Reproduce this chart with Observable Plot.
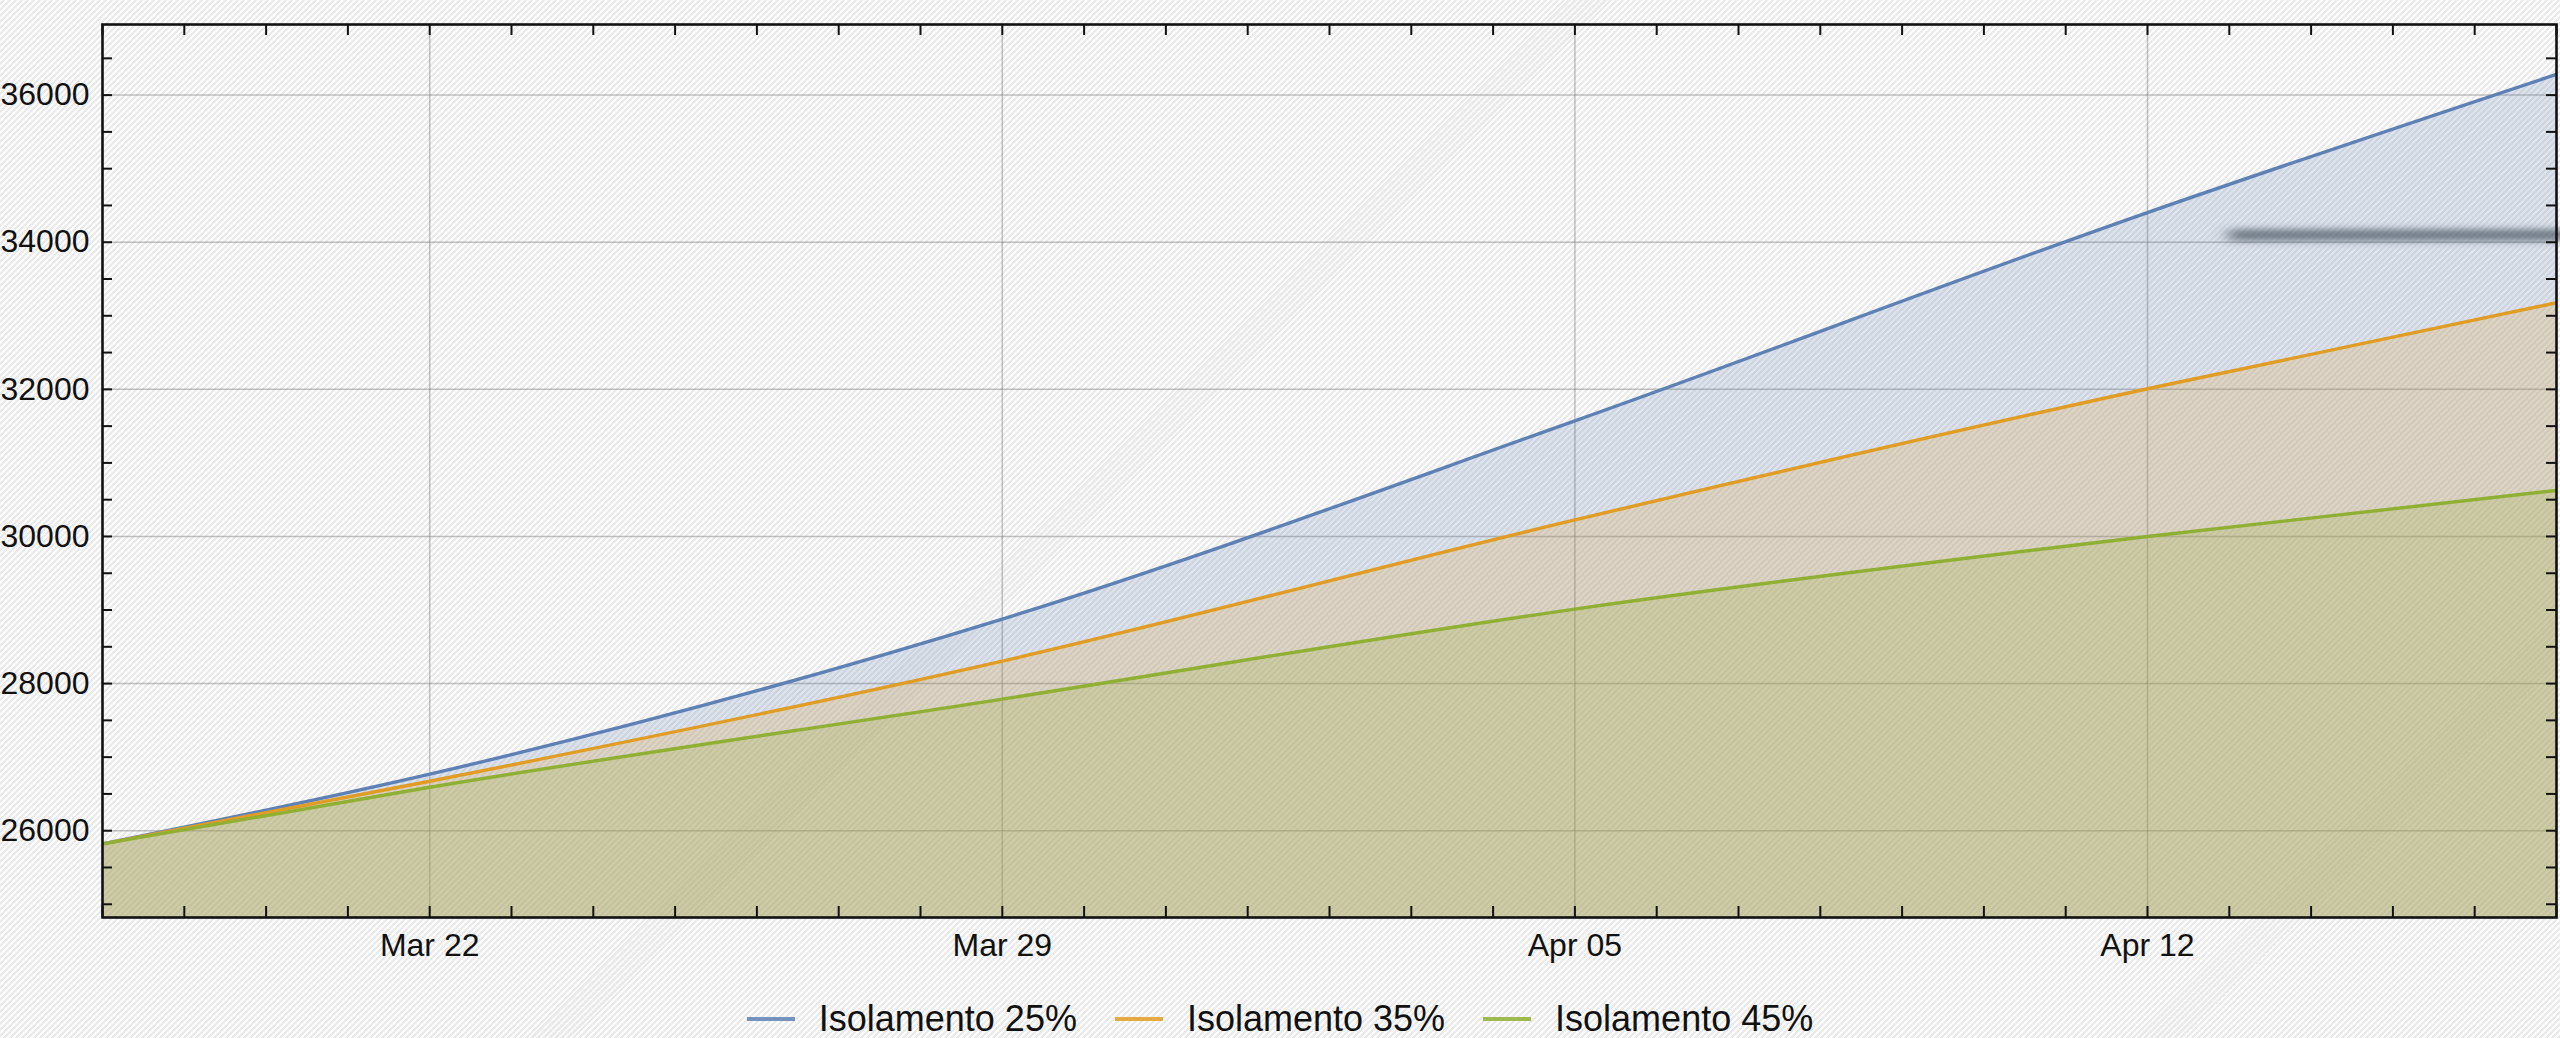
<!DOCTYPE html>
<html>
<head>
<meta charset="utf-8">
<script src="https://cdn.jsdelivr.net/npm/d3@7"></script>
<script src="https://cdn.jsdelivr.net/npm/@observablehq/plot@0.6"></script>
<style>
html, body { margin: 0; padding: 0; }
body {
  width: 2560px; height: 1038px; overflow: hidden; position: relative;
  background: repeating-linear-gradient(135deg, #fcfcfc 0px, #fcfcfc 2.1px, #eaeaea 2.1px, #eaeaea 4.24px);
  font-family: "Liberation Sans", Arial, sans-serif;
}
#chart { position: absolute; left: 0; top: 0; }
#legend {
  position: absolute; left: 0; top: 999px; width: 2560px; height: 40px;
  display: flex; align-items: center; justify-content: center;
  font-size: 36px; color: #111;
}
.item { display: flex; align-items: center; margin: 0 19px; }
.sw { width: 48px; height: 4px; margin-right: 24px; opacity: 0.85; }
</style>
</head>
<body>
<div id="chart"></div>
<div id="legend"></div>
<script>
// ---- data ----
const dates = ["2020-03-18", "2020-03-22", "2020-03-29", "2020-04-05", "2020-04-12", "2020-04-17"];
const iso25 = [25820, 26768, 28877, 31572, 34403, 36282];
const iso35 = [25820, 26672, 28306, 30225, 32008, 33178];
const iso45 = [25820, 26591, 27789, 29013, 30000, 30626];
const seriesNames = ["Isolamento 25%", "Isolamento 35%", "Isolamento 45%"];
const colors = ["#5e81b5", "#e19c24", "#8fb032"];
const xTickDates = ["2020-03-22", "2020-03-29", "2020-04-05", "2020-04-12"];
const yTicks = [26000, 28000, 30000, 32000, 34000, 36000];
const xDomain = ["2020-03-18", "2020-04-17"];
const yDomain = [24820, 36960];
// grey shadow smudge visible at the upper right of the reference
const smudge = [{ from: "2020-04-13T00:00Z", to: "2020-04-18", y: 34100 }];

// ---- build ----
const parse = d3.utcParse("%Y-%m-%d");
const seriesValues = [iso25, iso35, iso45];
const series = seriesValues.map((vals, i) =>
  vals.map((v, j) => ({ date: parse(dates[j]), v, name: seriesNames[i] })));

const W = 2560, H = 975;
const mL = 102, mR = 4, mT = 24, mB = 58;
const plotW = W - mL - mR, plotH = H - mT - mB;

const x0 = parse(xDomain[0]), x1 = parse(xDomain[1]);
const days = d3.utcDay.range(x0, d3.utcDay.offset(x1, 1));
const yMinor = d3.range(Math.ceil(yDomain[0] / 500) * 500, yDomain[1], 500);
const xTicks = xTickDates.map(parse);

const tickStyle = { stroke: "#111", strokeWidth: 2 };
const gridStyle = { stroke: "#7a7a7a", strokeOpacity: 0.45, strokeWidth: 1.5 };

const marks = [
  Plot.gridX(xTicks, gridStyle),
  Plot.gridY(yTicks, gridStyle),
];
series.forEach((s, i) => {
  marks.push(Plot.areaY(s, { x: "date", y: "v", fill: colors[i], fillOpacity: 0.2, curve: "monotone-x", clip: true }));
});
series.forEach((s, i) => {
  marks.push(Plot.lineY(s, { x: "date", y: "v", stroke: colors[i], strokeWidth: 3.4, curve: "monotone-x", clip: true }));
});
marks.push(
  Plot.ruleY(smudge, { y: "y", x1: d => new Date(d.from), x2: d => new Date(d.to), stroke: "#3e4654", strokeOpacity: 0.62, strokeWidth: 12, ariaLabel: () => "smudge" }),
  Plot.ruleX(days, { x: d => d, insetTop: plotH - 11, ...tickStyle }),
  Plot.ruleX(days, { x: d => d, insetBottom: plotH - 11, ...tickStyle }),
  Plot.ruleY(yMinor, { y: d => d, insetRight: plotW - 10, ...tickStyle }),
  Plot.ruleY(yMinor, { y: d => d, insetLeft: plotW - 10, ...tickStyle }),
  Plot.frame({ stroke: "#111", strokeWidth: 2.6 }),
  Plot.axisX(xTicks, { tickSize: 0, tickPadding: 16, tickFormat: d3.utcFormat("%b %d"), fontSize: 32, fill: "#111", label: null }),
  Plot.axisY(yTicks, { tickSize: 0, tickPadding: 13, tickFormat: d3.format("d"), fontSize: 32, fill: "#111", label: null })
);

const chart = Plot.plot({
  width: W, height: H,
  marginLeft: mL, marginRight: mR, marginTop: mT, marginBottom: mB,
  style: { background: "transparent", fontFamily: "'Liberation Sans', Arial, sans-serif", overflow: "visible" },
  x: { type: "utc", domain: [x0, x1] },
  y: { domain: yDomain },
  marks
});

// soft blur for the smudge (user-space filter region, since a line has a zero-height bbox)
const svgEl = chart.tagName.toLowerCase() === "svg" ? chart : chart.querySelector("svg");
const svg = d3.select(svgEl);
const defs = svg.insert("defs", ":first-child");
const f = defs.append("filter").attr("id", "softsmudge")
  .attr("filterUnits", "userSpaceOnUse")
  .attr("x", 0).attr("y", 0).attr("width", W).attr("height", H);
f.append("feGaussianBlur").attr("stdDeviation", "8 3");
svg.selectAll('[aria-label="smudge"]').attr("filter", "url(#softsmudge)");

document.getElementById("chart").append(chart);

const legend = document.getElementById("legend");
seriesNames.forEach((n, i) => {
  const it = document.createElement("div");
  it.className = "item";
  const sw = document.createElement("div");
  sw.className = "sw";
  sw.style.background = colors[i];
  const t = document.createElement("span");
  t.textContent = n;
  it.append(sw, t);
  legend.append(it);
});
</script>
</body>
</html>
